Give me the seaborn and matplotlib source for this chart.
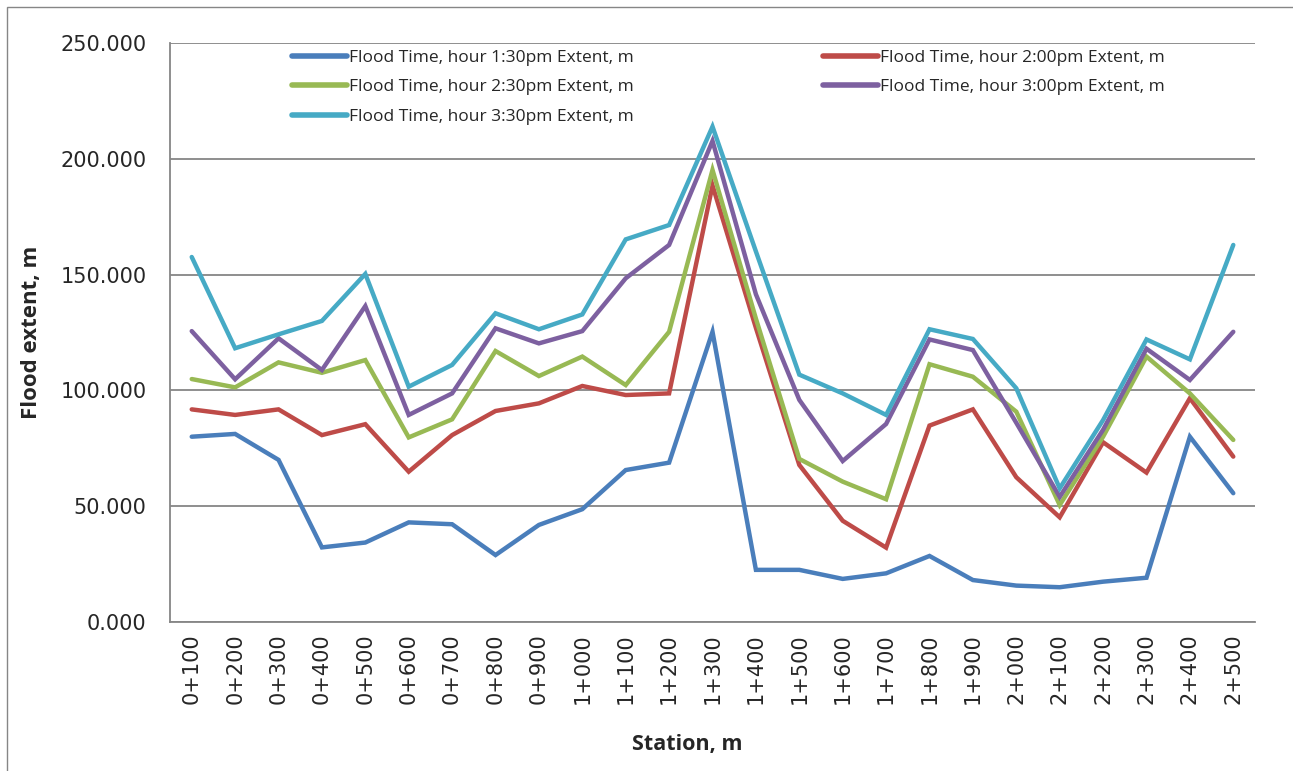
#Flood extent along the stations for five flood times

import pandas as pd
import seaborn as sns
import matplotlib.pyplot as plt
from matplotlib.patches import Rectangle

#Stations along the channel
stations = ["0+100", "0+200", "0+300", "0+400", "0+500", "0+600", "0+700", "0+800",
            "0+900", "1+000", "1+100", "1+200", "1+300", "1+400", "1+500", "1+600",
            "1+700", "1+800", "1+900", "2+000", "2+100", "2+200", "2+300", "2+400", "2+500"]

#Flood extent (m) for each time
extent_130 = [80.0, 81.2, 70.0, 32.2, 34.3, 43.0, 42.2, 28.9, 41.9, 48.7, 65.6, 68.8, 125.3,
              22.5, 22.5, 18.6, 21.0, 28.5, 18.1, 15.7, 15.0, 17.4, 19.1, 80.0, 55.6]
extent_200 = [91.8, 89.4, 91.8, 80.7, 85.4, 64.9, 80.7, 91.1, 94.4, 101.9, 98.0, 98.7, 188.5,
              127.0, 67.8, 43.7, 32.1, 84.8, 91.8, 62.5, 45.2, 77.6, 64.5, 96.6, 71.4]
extent_230 = [104.9, 101.3, 112.1, 107.6, 113.1, 79.7, 87.5, 117.0, 106.2, 114.6, 102.3, 125.3, 195.2,
              131.0, 70.4, 60.6, 53.0, 111.3, 105.9, 90.8, 50.5, 80.0, 114.6, 98.7, 78.6]
extent_300 = [125.6, 104.8, 122.5, 108.8, 136.4, 89.4, 98.7, 126.8, 120.3, 125.6, 148.4, 162.8, 207.7,
              141.5, 95.9, 69.5, 85.5, 122.0, 117.4, 86.0, 54.0, 83.0, 118.0, 104.5, 125.3]
extent_330 = [157.6, 118.2, 124.2, 130.0, 150.3, 101.6, 111.0, 133.3, 126.4, 132.8, 165.2, 171.4, 213.9,
              160.0, 106.8, 98.7, 89.4, 126.4, 122.2, 100.9, 57.7, 87.2, 122.0, 113.4, 162.8]

series_names = ["Flood Time, hour 1:30pm Extent, m",
                "Flood Time, hour 2:00pm Extent, m",
                "Flood Time, hour 2:30pm Extent, m",
                "Flood Time, hour 3:00pm Extent, m",
                "Flood Time, hour 3:30pm Extent, m"]
colours = ["#4A7EBB", "#BE4B48", "#98B954", "#7D60A0", "#46AAC5"]

#Long table for seaborn
df = pd.DataFrame({"Station": stations,
                   series_names[0]: extent_130,
                   series_names[1]: extent_200,
                   series_names[2]: extent_230,
                   series_names[3]: extent_300,
                   series_names[4]: extent_330})
df = df.melt(id_vars="Station", var_name="Series", value_name="Extent")

sns.set_style("white")
plt.rcParams['font.family'] = ['DejaVu Sans']

fig = plt.figure(figsize=(12.93, 7.71), dpi=100)
ax = fig.add_axes([0.1315, 0.1933, 0.8391, 0.7509])

sns.lineplot(data=df, x="Station", y="Extent", hue="Series", hue_order=series_names,
             palette=colours, linewidth=3.2, sort=False, ax=ax,
             solid_capstyle="round", solid_joinstyle="miter")

#Axes limits and grid
ax.set_xlim(-0.5, len(stations) - 0.5)
ax.set_ylim(0, 250)
ax.set_yticks([0, 50, 100, 150, 200, 250])
ax.set_yticklabels(["0.000", "50.000", "100.000", "150.000", "200.000", "250.000"])
ax.yaxis.grid(True, color="#868686", linewidth=1.3)
ax.set_axisbelow(True)

for side in ["top", "right"]:
    ax.spines[side].set_visible(False)
for side in ["left", "bottom"]:
    ax.spines[side].set_color("#868686")
    ax.spines[side].set_linewidth(1.3)

ax.tick_params(axis="y", length=5, width=1.3, color="#868686", pad=12, labelsize=15)
ax.tick_params(axis="x", length=0, pad=8, labelsize=15, rotation=90)

#Axis labels
ax.set_xlabel("Station, m", fontsize=15.5, fontweight="bold", family="Open Sans")
ax.set_ylabel("Flood extent, m", fontsize=16, fontweight="bold", family="Open Sans")
ax.xaxis.set_label_coords(0.477, -0.193)
ax.yaxis.set_label_coords(-0.118, 0.5)

#Legend in Excel order (row by row, two columns)
handles, labels = ax.get_legend_handles_labels()
order = [0, 2, 4, 1, 3]
ax.legend([handles[i] for i in order], [labels[i] for i in order], ncol=2,
          frameon=False, loc="upper left", bbox_to_anchor=(0.0976, 1.015),
          prop={"family": "Open Sans", "size": 12.5}, handlelength=3.2,
          columnspacing=10.9, labelspacing=0.76, handletextpad=0.1)
for line in ax.get_legend().get_lines():
    line.set_linewidth(4)

#Chart area border
fig.patches.append(Rectangle((7 / 1293, -0.01), 1.02, 1 - 7 / 771 + 0.01,
                             transform=fig.transFigure, fill=False,
                             edgecolor="#868686", linewidth=1))

plt.savefig("out.png", dpi=100)
